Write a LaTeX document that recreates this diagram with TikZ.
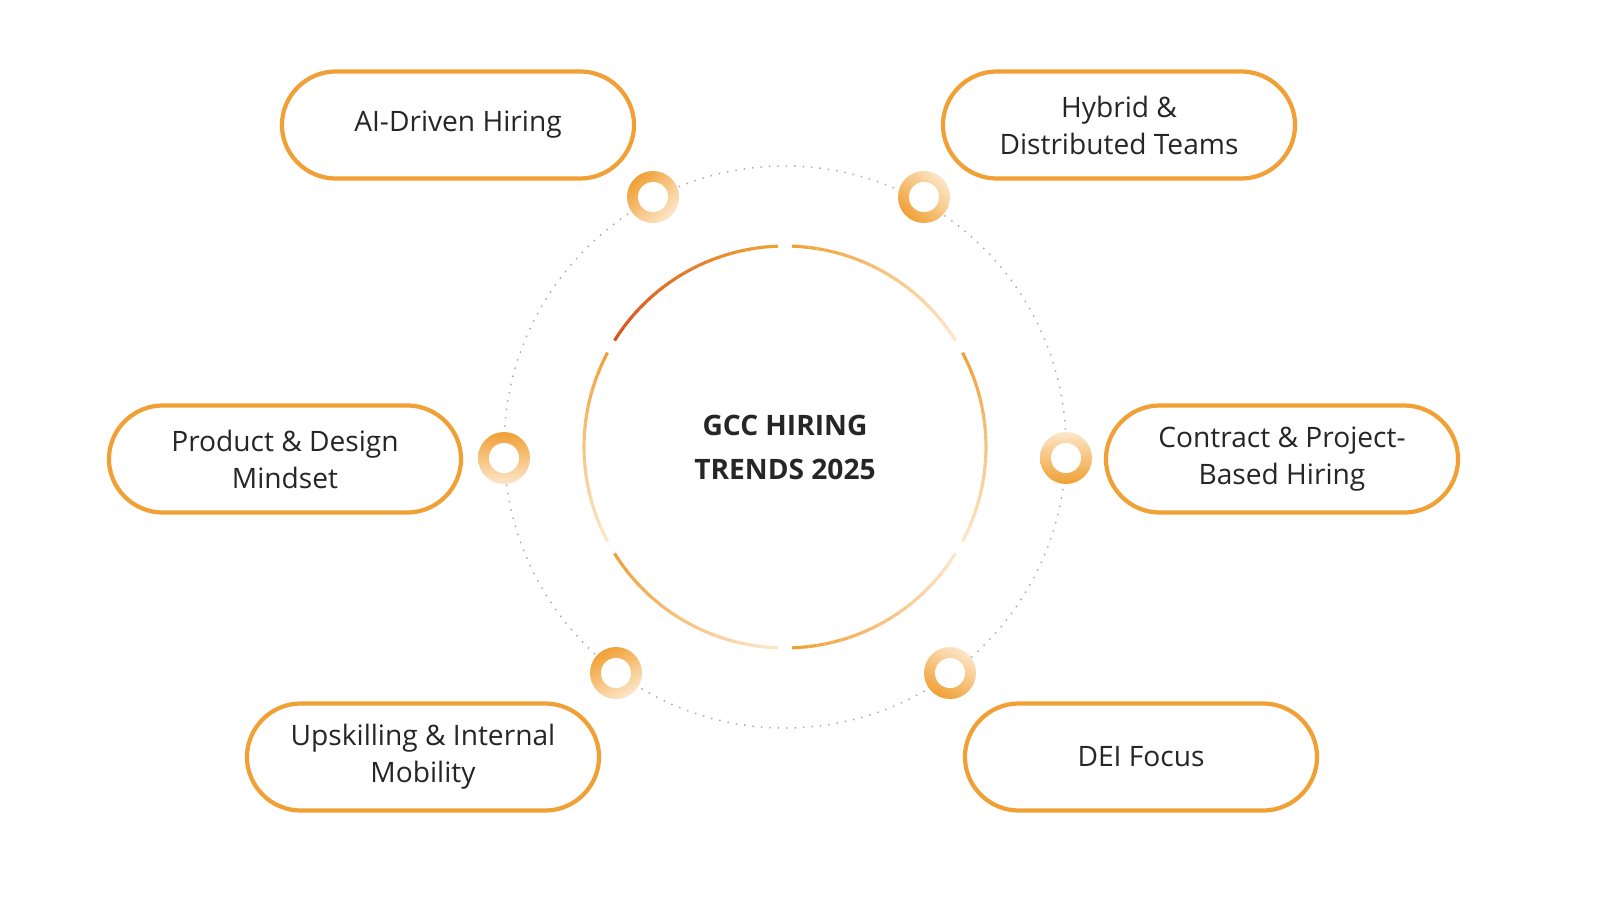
\documentclass[tikz,border=0pt]{standalone}
\usepackage{fontspec}
\setmainfont{Open Sans}
\definecolor{dk}{HTML}{D9541E}
\definecolor{org}{HTML}{F0A035}
\definecolor{pal}{HTML}{FCE6C8}
\begin{document}
\begin{tikzpicture}[x=0.01cm,y=-0.01cm,
  pill/.style={draw=org,line width=1.2pt,rounded corners=0.54cm,minimum width=3.52cm,minimum height=1.07cm,align=center,font=\fontsize{8}{10.5}\selectfont,text=black!85}]
\useasboundingbox[fill=white] (0,0) rectangle (1600,900);
\coordinate (c) at (785,447);
\draw[gray!70,dotted,line width=0.4pt] (c) circle[radius=281];
\newcommand\gradarc[4]{%
 \foreach \i in {0,...,23}{%
  \pgfmathsetmacro\aa{#1+(#2-#1)*\i/24}%
  \pgfmathsetmacro\bb{#1+(#2-#1)*(\i+1)/24}%
  \pgfmathtruncatemacro\p{100-100*\i/23}%
  \draw[line width=0.9pt,color=#3!\p!#4] ({785+201*cos(\aa)},{447-201*sin(\aa)}) -- ({785+201*cos(\bb)},{447-201*sin(\bb)});}}
\gradarc{92}{148}{org}{dk}
\gradarc{152}{208}{org}{pal}
\gradarc{212}{268}{org}{pal}
\gradarc{272}{328}{org}{pal}
\gradarc{388}{332}{org}{pal}
\gradarc{88}{32}{org}{pal}
\node[font=\bfseries\fontsize{8}{12.5}\selectfont,align=center,text=black!85] (t) at (c) {GCC HIRING\\TRENDS 2025};
\foreach \n/\x/\y/\s in {d1/653/197/45,d2/924/197/135,d3/504/458/0,d4/1066/458/180,d5/616/673/30,d6/950/673/150}{
  \shade[left color=org,right color=pal,shading angle=\s] (\x,\y) circle[radius=26];
  \fill[white] (\x,\y) circle[radius=15];
  \coordinate (\n) at (\x,\y);}
\node[pill] (p1) at (458,125) {AI-Driven Hiring};
\node[pill] (p2) at (1119,125) {Hybrid \&\\Distributed Teams};
\node[pill] (p3) at (285,459) {Product \& Design\\Mindset};
\node[pill] (p4) at (1282,459) {Contract \& Project-\\Based Hiring};
\node[pill] (p5) at (423,757) {Upskilling \& Internal\\Mobility};
\node[pill] (p6) at (1141,757) {DEI Focus};
\end{tikzpicture}
\end{document}
